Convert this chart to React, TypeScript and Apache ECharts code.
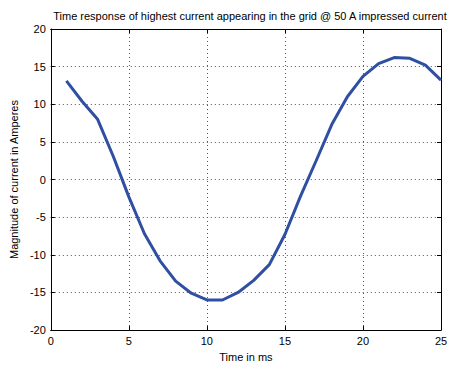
import React, { useEffect, useRef } from "react";
import * as echarts from "echarts";

const timeMs = [1, 2, 3, 4, 5, 6, 7, 8, 9, 10, 11, 12, 13, 14, 15, 16, 17, 18, 19, 20, 21, 22, 23, 24, 25];
const current = [13.1, 10.4, 8.0, 3.1, -2.3, -7.2, -10.8, -13.5, -15.1, -16.0, -16.0, -15.0, -13.4, -11.3, -7.3, -2.2, 2.5, 7.3, 11.0, 13.7, 15.4, 16.2, 16.1, 15.2, 13.2];

const titleText = "Time response of highest current appearing in the grid @ 50 A impressed current";
const xLabel = "Time in ms";
const yLabel = "Magnitude of current in Amperes";

export default function App() {
  const ref = useRef<HTMLDivElement>(null);
  useEffect(() => {
    if (!ref.current) return;
    const chart = echarts.init(ref.current, null, { renderer: "svg" });
    const font = "Liberation Sans, Arial, sans-serif";
    const axisLine = { show: true, onZero: false, lineStyle: { color: "#000", width: 1 } };
    const tick = { show: true, inside: true, length: 4, lineStyle: { color: "#000" } };
    const grid = { show: true, lineStyle: { color: "#555", width: 1, type: [1, 3] } };
    chart.setOption({
      animation: false,
      backgroundColor: "#fff",
      title: {
        text: titleText,
        left: 245,
        textAlign: "center",
        top: 5,
        textStyle: { fontFamily: font, fontSize: 11, fontWeight: "normal", color: "#000" },
      },
      grid: { left: 49, top: 29, width: 392, height: 307, show: false },
      xAxis: [
        {
          type: "value", min: 0, max: 25, interval: 5, position: "bottom",
          name: xLabel, nameLocation: "middle", nameGap: 20,
          nameTextStyle: { fontFamily: font, fontSize: 11, color: "#000" },
          axisLine, axisTick: tick, splitLine: grid,
          axisLabel: { fontFamily: font, fontSize: 11, color: "#000", margin: 5 },
        },
        {
          type: "value", min: 0, max: 25, interval: 5, position: "top",
          axisLine, axisTick: tick, splitLine: { show: false }, axisLabel: { show: false },
        },
      ],
      yAxis: [
        {
          type: "value", min: -20, max: 20, interval: 5, position: "left",
          name: yLabel, nameLocation: "middle", nameGap: 29,
          nameTextStyle: { fontFamily: font, fontSize: 11, color: "#000" },
          axisLine, axisTick: tick, splitLine: grid,
          axisLabel: { fontFamily: font, fontSize: 11, color: "#000", margin: 5 },
        },
        {
          type: "value", min: -20, max: 20, interval: 5, position: "right",
          axisLine, axisTick: tick, splitLine: { show: false }, axisLabel: { show: false },
        },
      ],
      series: [
        {
          type: "line",
          data: timeMs.map((t, i) => [t, current[i]]),
          showSymbol: false,
          lineStyle: { color: "#2f4fa3", width: 3 },
          xAxisIndex: 0,
          yAxisIndex: 0,
        },
      ],
    });
    return () => chart.dispose();
  }, []);
  return <div ref={ref} style={{ width: 454, height: 367, position: "absolute", left: 0, top: 0 }} />;
}
